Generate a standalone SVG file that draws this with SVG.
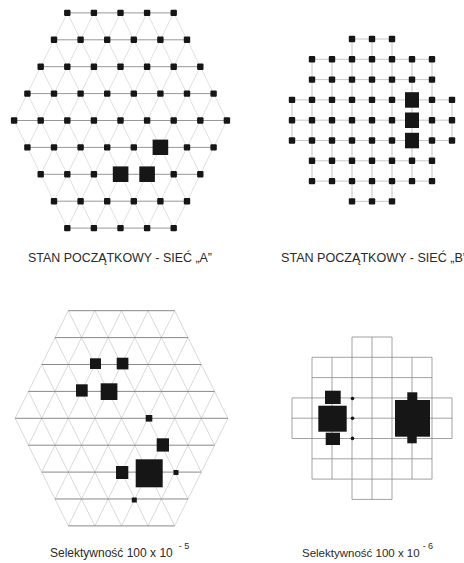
<svg xmlns="http://www.w3.org/2000/svg" xmlns:xlink="http://www.w3.org/1999/xlink" width="464" height="563" viewBox="0 0 464 563">
<style>
  .lbl { font-family: "Liberation Sans", Arial, sans-serif; fill: #2a2a2a; }
  .nd { fill: #161616; }
</style>
<defs>
  <rect id="n" x="-3.2" y="-3.2" width="6.4" height="6.4" rx="1"/>
  <path id="latH" d="M67.3 12.9H173.7 M54 39.8H187 M40.7 66.7H200.3 M27.4 93.6H213.6 M14.1 120.5H226.9 M27.4 147.4H213.6 M40.7 174.3H200.3 M54 201.2H187 M67.3 228.1H173.7"/>
  <path id="latD" d="M14.1 120.5L67.3 228.1 M27.4 93.6L93.9 228.1 M40.7 66.7L120.5 228.1 M54 39.8L147.1 228.1 M67.3 12.9L173.7 228.1 M93.9 12.9L187 201.2 M120.5 12.9L200.3 174.3 M147.1 12.9L213.6 147.4 M173.7 12.9L226.9 120.5 M67.3 12.9L14.1 120.5 M93.9 12.9L27.4 147.4 M120.5 12.9L40.7 174.3 M147.1 12.9L54 201.2 M173.7 12.9L67.3 228.1 M187 39.8L93.9 228.1 M200.3 66.7L120.5 228.1 M213.6 93.6L147.1 228.1 M226.9 120.5L173.7 228.1"/>
  <path id="sq" d="M352 39H392 M312 59.3H432 M312 79.6H432 M292 99.9H452 M292 120.2H452 M292 140.5H452 M312 160.8H432 M312 181.1H432 M352 201.4H392 M292 99.9V140.5 M312 59.3V181.1 M332 59.3V181.1 M352 39V201.4 M372 39V201.4 M392 39V201.4 M412 59.3V181.1 M432 59.3V181.1 M452 99.9V140.5"/>
</defs>
<rect width="464" height="563" fill="#ffffff"/>

<!-- Panel A -->
<g id="panel-a">
  <g id="panel-a-connectors" fill="none">
    <use xlink:href="#latD" stroke="#d2d2d2" stroke-width="0.7"/>
    <use xlink:href="#latH" stroke="#8c8c8c" stroke-width="0.9"/>
  </g>
  <g id="panel-a-nodes" class="nd">
    <use xlink:href="#n" x="67.3" y="12.9"/><use xlink:href="#n" x="93.9" y="12.9"/><use xlink:href="#n" x="120.5" y="12.9"/><use xlink:href="#n" x="147.1" y="12.9"/><use xlink:href="#n" x="173.7" y="12.9"/>
    <use xlink:href="#n" x="54" y="39.8"/><use xlink:href="#n" x="80.6" y="39.8"/><use xlink:href="#n" x="107.2" y="39.8"/><use xlink:href="#n" x="133.8" y="39.8"/><use xlink:href="#n" x="160.4" y="39.8"/><use xlink:href="#n" x="187" y="39.8"/>
    <use xlink:href="#n" x="40.7" y="66.7"/><use xlink:href="#n" x="67.3" y="66.7"/><use xlink:href="#n" x="93.9" y="66.7"/><use xlink:href="#n" x="120.5" y="66.7"/><use xlink:href="#n" x="147.1" y="66.7"/><use xlink:href="#n" x="173.7" y="66.7"/><use xlink:href="#n" x="200.3" y="66.7"/>
    <use xlink:href="#n" x="27.4" y="93.6"/><use xlink:href="#n" x="54" y="93.6"/><use xlink:href="#n" x="80.6" y="93.6"/><use xlink:href="#n" x="107.2" y="93.6"/><use xlink:href="#n" x="133.8" y="93.6"/><use xlink:href="#n" x="160.4" y="93.6"/><use xlink:href="#n" x="187" y="93.6"/><use xlink:href="#n" x="213.6" y="93.6"/>
    <use xlink:href="#n" x="14.1" y="120.5"/><use xlink:href="#n" x="40.7" y="120.5"/><use xlink:href="#n" x="67.3" y="120.5"/><use xlink:href="#n" x="93.9" y="120.5"/><use xlink:href="#n" x="120.5" y="120.5"/><use xlink:href="#n" x="147.1" y="120.5"/><use xlink:href="#n" x="173.7" y="120.5"/><use xlink:href="#n" x="200.3" y="120.5"/><use xlink:href="#n" x="226.9" y="120.5"/>
    <use xlink:href="#n" x="27.4" y="147.4"/><use xlink:href="#n" x="54" y="147.4"/><use xlink:href="#n" x="80.6" y="147.4"/><use xlink:href="#n" x="107.2" y="147.4"/><use xlink:href="#n" x="133.8" y="147.4"/><use xlink:href="#n" x="187" y="147.4"/><use xlink:href="#n" x="213.6" y="147.4"/>
    <use xlink:href="#n" x="40.7" y="174.3"/><use xlink:href="#n" x="67.3" y="174.3"/><use xlink:href="#n" x="93.9" y="174.3"/><use xlink:href="#n" x="173.7" y="174.3"/><use xlink:href="#n" x="200.3" y="174.3"/>
    <use xlink:href="#n" x="54" y="201.2"/><use xlink:href="#n" x="80.6" y="201.2"/><use xlink:href="#n" x="107.2" y="201.2"/><use xlink:href="#n" x="133.8" y="201.2"/><use xlink:href="#n" x="160.4" y="201.2"/><use xlink:href="#n" x="187" y="201.2"/>
    <use xlink:href="#n" x="67.3" y="228.1"/><use xlink:href="#n" x="93.9" y="228.1"/><use xlink:href="#n" x="120.5" y="228.1"/><use xlink:href="#n" x="147.1" y="228.1"/><use xlink:href="#n" x="173.7" y="228.1"/>
    <rect x="152.6" y="139.6" width="15.6" height="15.4"/>
    <rect x="112.8" y="166.4" width="15.6" height="15.6"/>
    <rect x="139.3" y="166.4" width="15.6" height="15.6"/>
  </g>
</g>

<!-- Panel B -->
<g id="panel-b">
  <g id="panel-b-connectors" fill="none">
    <use xlink:href="#sq" stroke="#b8b8b8" stroke-width="0.8"/>
  </g>
  <g id="panel-b-nodes" class="nd">
    <use xlink:href="#n" x="352" y="39"/><use xlink:href="#n" x="372" y="39"/><use xlink:href="#n" x="392" y="39"/>
    <use xlink:href="#n" x="312" y="59.3"/><use xlink:href="#n" x="332" y="59.3"/><use xlink:href="#n" x="352" y="59.3"/><use xlink:href="#n" x="372" y="59.3"/><use xlink:href="#n" x="392" y="59.3"/><use xlink:href="#n" x="412" y="59.3"/><use xlink:href="#n" x="432" y="59.3"/>
    <use xlink:href="#n" x="312" y="79.6"/><use xlink:href="#n" x="332" y="79.6"/><use xlink:href="#n" x="352" y="79.6"/><use xlink:href="#n" x="372" y="79.6"/><use xlink:href="#n" x="392" y="79.6"/><use xlink:href="#n" x="412" y="79.6"/><use xlink:href="#n" x="432" y="79.6"/>
    <use xlink:href="#n" x="292" y="99.9"/><use xlink:href="#n" x="312" y="99.9"/><use xlink:href="#n" x="332" y="99.9"/><use xlink:href="#n" x="352" y="99.9"/><use xlink:href="#n" x="372" y="99.9"/><use xlink:href="#n" x="392" y="99.9"/><use xlink:href="#n" x="432" y="99.9"/><use xlink:href="#n" x="452" y="99.9"/>
    <use xlink:href="#n" x="292" y="120.2"/><use xlink:href="#n" x="312" y="120.2"/><use xlink:href="#n" x="332" y="120.2"/><use xlink:href="#n" x="352" y="120.2"/><use xlink:href="#n" x="372" y="120.2"/><use xlink:href="#n" x="392" y="120.2"/><use xlink:href="#n" x="432" y="120.2"/><use xlink:href="#n" x="452" y="120.2"/>
    <use xlink:href="#n" x="292" y="140.5"/><use xlink:href="#n" x="312" y="140.5"/><use xlink:href="#n" x="332" y="140.5"/><use xlink:href="#n" x="352" y="140.5"/><use xlink:href="#n" x="372" y="140.5"/><use xlink:href="#n" x="392" y="140.5"/><use xlink:href="#n" x="432" y="140.5"/><use xlink:href="#n" x="452" y="140.5"/>
    <use xlink:href="#n" x="312" y="160.8"/><use xlink:href="#n" x="332" y="160.8"/><use xlink:href="#n" x="352" y="160.8"/><use xlink:href="#n" x="372" y="160.8"/><use xlink:href="#n" x="392" y="160.8"/><use xlink:href="#n" x="412" y="160.8"/><use xlink:href="#n" x="432" y="160.8"/>
    <use xlink:href="#n" x="312" y="181.1"/><use xlink:href="#n" x="332" y="181.1"/><use xlink:href="#n" x="352" y="181.1"/><use xlink:href="#n" x="372" y="181.1"/><use xlink:href="#n" x="392" y="181.1"/><use xlink:href="#n" x="412" y="181.1"/><use xlink:href="#n" x="432" y="181.1"/>
    <use xlink:href="#n" x="352" y="201.4"/><use xlink:href="#n" x="372" y="201.4"/><use xlink:href="#n" x="392" y="201.4"/>
    <rect x="405" y="92.2" width="14" height="15.5"/>
    <rect x="405" y="112.5" width="14" height="15.5"/>
    <rect x="405" y="132.8" width="14" height="15.5"/>
  </g>
</g>

<!-- Panel C -->
<g id="panel-c">
  <g id="panel-c-connectors" fill="none" transform="translate(1,297.8)">
    <use xlink:href="#latD" stroke="#c8c8c8" stroke-width="0.7"/>
    <use xlink:href="#latH" stroke="#7a7a7a" stroke-width="0.9"/>
  </g>
  <g id="panel-c-nodes" class="nd">
    <rect x="90" y="358.3" width="11" height="10.7"/>
    <rect x="116.7" y="357.7" width="11.7" height="11.7"/>
    <rect x="76" y="384.3" width="11.7" height="12.3"/>
    <rect x="100.7" y="383.3" width="16.7" height="16.7"/>
    <rect x="145.7" y="415" width="6.6" height="6.6"/>
    <rect x="156.7" y="438.3" width="12.3" height="13.3"/>
    <rect x="116" y="466" width="12.3" height="13"/>
    <rect x="135.7" y="459.3" width="27" height="28"/>
    <rect x="173.5" y="470" width="5" height="5"/>
    <rect x="131.8" y="497.5" width="5" height="5"/>
  </g>
</g>

<!-- Panel D -->
<g id="panel-d">
  <g id="panel-d-connectors" fill="none" transform="translate(0,298)">
    <use xlink:href="#sq" stroke="#8a8a8a" stroke-width="0.8"/>
  </g>
  <g id="panel-d-nodes" class="nd">
    <rect x="325" y="390.7" width="15.7" height="13.3"/>
    <rect x="318.3" y="405.7" width="28.4" height="26"/>
    <rect x="325.7" y="432.7" width="14.3" height="12.3"/>
    <rect x="407.3" y="392.3" width="10" height="8.5"/>
    <rect x="395" y="400" width="35" height="36.7"/>
    <rect x="407.3" y="436" width="9.4" height="7.3"/>
    <circle cx="352.5" cy="398.5" r="1.8"/>
    <circle cx="352.5" cy="418.3" r="1.8"/>
    <circle cx="352.5" cy="438.4" r="1.8"/>
  </g>
</g>

<!-- Labels -->
<g id="labels" class="lbl">
  <text x="28" y="261.5" font-size="12" textLength="184" lengthAdjust="spacingAndGlyphs">STAN POCZĄTKOWY - SIEĆ „A”</text>
  <text x="281" y="261.5" font-size="12" textLength="186" lengthAdjust="spacingAndGlyphs">STAN POCZĄTKOWY - SIEĆ „B”</text>
  <text x="50" y="557" font-size="12">Selektywność 100 x 10<tspan dx="6" dy="-8" font-size="9">- 5</tspan></text>
  <text x="302" y="557" font-size="11.5">Selektywność 100 x 10<tspan dx="3" dy="-8" font-size="9">- 6</tspan></text>
</g>
</svg>
